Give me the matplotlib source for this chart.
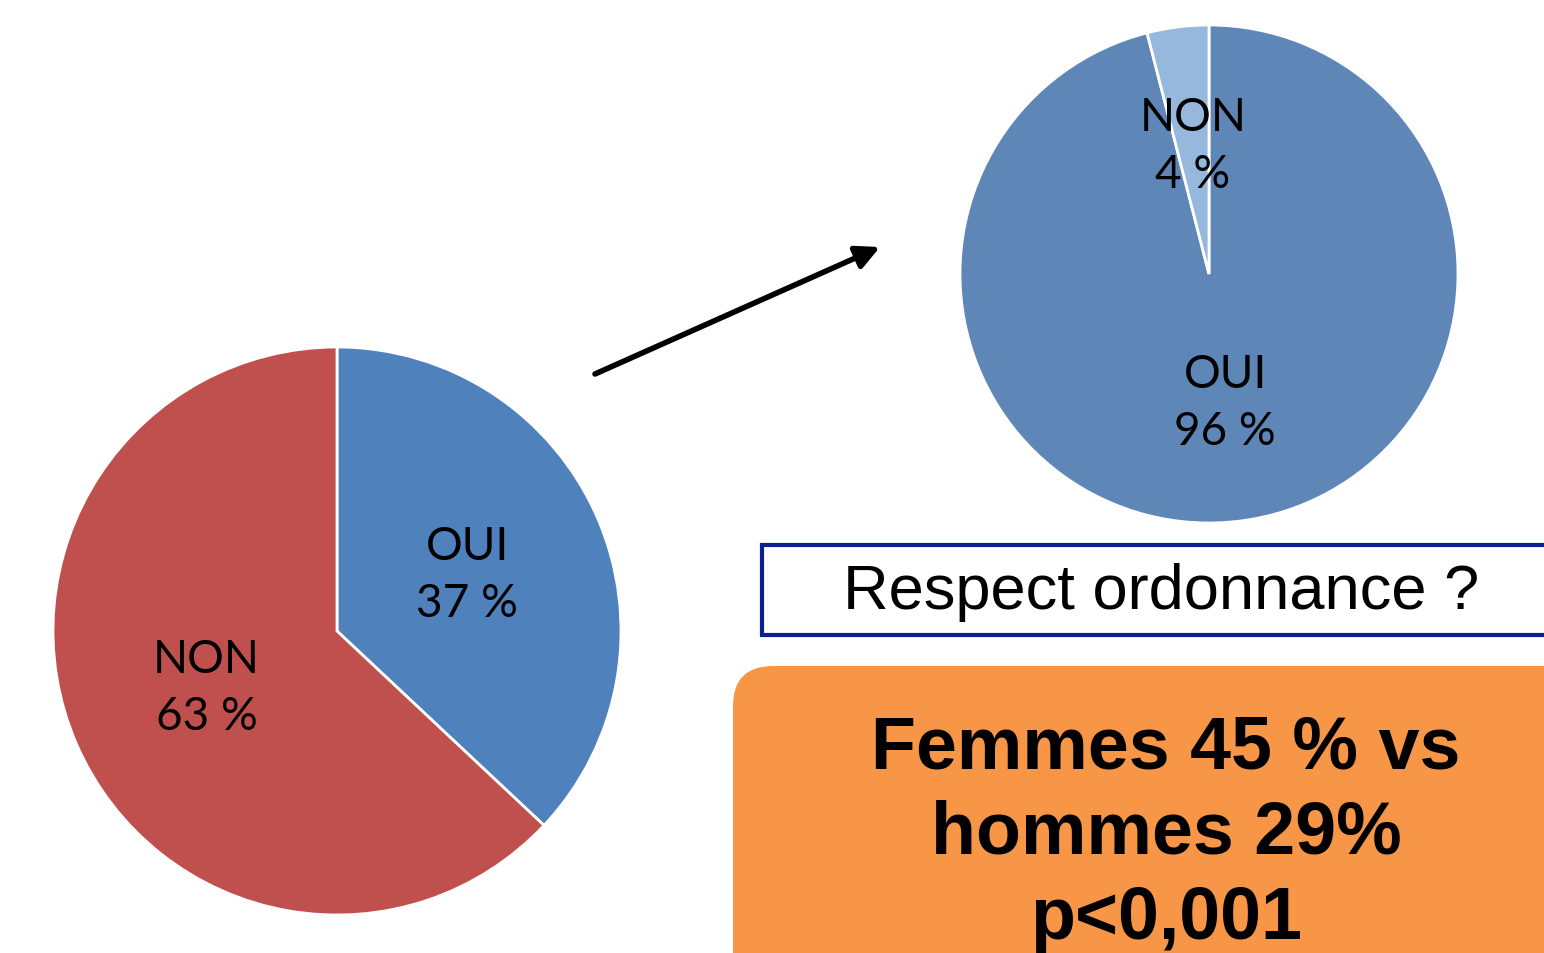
import matplotlib
matplotlib.use("Agg")
import matplotlib.pyplot as plt
from matplotlib.patches import Rectangle, FancyBboxPatch

# data
left_labels = ["OUI", "NON"]
left_values = [37, 63]
left_colors = ["#4F81BD", "#C0504D"]

right_labels = ["OUI", "NON"]
right_values = [96, 4]
right_colors = ["#5E87B8", "#95B8DC"]

question = "Respect ordonnance ?"
summary = "Femmes 45 % vs\nhommes 29%\np<0,001"

W, H = 1544, 954
fig = plt.figure(figsize=(W / 100, H / 100), dpi=100)
ax = fig.add_axes([0, 0, 1, 1])
ax.set_xlim(0, W)
ax.set_ylim(0, H)
ax.axis("off")

def pie_text(labels, values):
    return [f"{l}\n{v} %" for l, v in zip(labels, values)]

label_style = dict(ha="center", va="center", fontsize=33, family="Lato",
                   linespacing=1.45, color="black")

ax.pie(left_values, labels=pie_text(left_labels, left_values), colors=left_colors,
       startangle=90, counterclock=False, center=(337, H - 632), radius=284,
       labeldistance=0.5, frame=False,
       wedgeprops=dict(edgecolor="white", linewidth=2),
       textprops=label_style)

ax.pie(right_values, labels=pie_text(right_labels, right_values), colors=right_colors,
       startangle=90, counterclock=False, center=(1209, H - 275), radius=249,
       labeldistance=0.52, frame=False,
       wedgeprops=dict(edgecolor="white", linewidth=2),
       textprops=label_style)

ax.set_xlim(0, W)
ax.set_ylim(0, H)
ax.set_aspect("auto")

# arrow between the two pies
ax.annotate("", xy=(880, H - 248), xytext=(595, H - 375),
            arrowprops=dict(arrowstyle="-|>", color="black", lw=4,
                            mutation_scale=35, shrinkA=0, shrinkB=0))

# question box
ax.add_patch(Rectangle((762, H - 636), 820, 90, facecolor="white",
                       edgecolor="#0B1F91", linewidth=3, clip_on=False))
ax.text(1161, H - 592, question, ha="center", va="center", fontsize=45.5,
        family="Liberation Sans", color="black")

# orange result box
ax.add_patch(FancyBboxPatch((733, -100), 900, H - 667 + 100,
                            boxstyle="round,pad=0,rounding_size=40",
                            facecolor="#F79646", edgecolor="none", clip_on=True))
ax.text(1166, H - 834, summary, ha="center", va="center", fontsize=53,
        family="Liberation Sans", weight="bold", color="black", linespacing=1.3)

fig.savefig("out.png", dpi=100)
